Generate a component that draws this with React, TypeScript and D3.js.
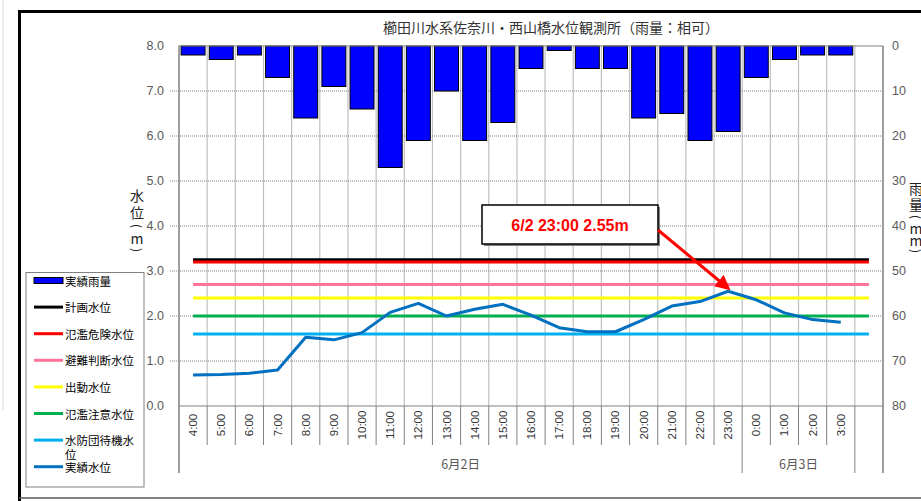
import React from "react";
import * as d3 from "d3";

// hourly observations, 6/2 4:00 - 6/3 3:00 (last column is empty)
const HOURS = ["4:00", "5:00", "6:00", "7:00", "8:00", "9:00", "10:00", "11:00", "12:00", "13:00", "14:00", "15:00",
  "16:00", "17:00", "18:00", "19:00", "20:00", "21:00", "22:00", "23:00", "0:00", "1:00", "2:00", "3:00"];
const CATEGORIES = [...HOURS, "-"];

const RAIN = [2, 3, 2, 7, 16, 9, 14, 27, 21, 10, 21, 17, 5, 1, 5, 5, 16, 15, 21, 19, 7, 3, 2, 2];
const LEVEL = [0.69, 0.70, 0.73, 0.80, 1.53, 1.47, 1.63, 2.08, 2.28, 2.00, 2.15, 2.26,
  2.02, 1.74, 1.65, 1.65, 1.92, 2.22, 2.32, 2.55, 2.36, 2.07, 1.92, 1.86];

const THRESHOLD_NAMES = ["計画水位", "氾濫危険水位", "避難判断水位", "出動水位", "氾濫注意水位", "水防団待機水位"];
const THRESHOLD_VALUES = [3.25, 3.20, 2.70, 2.40, 2.00, 1.60];
const THRESHOLD_COLORS = ["#000000", "#ff0000", "#ff7399", "#ffff00", "#00b050", "#00b0f0"];

const DAY_LABELS = ["6月2日", "6月3日"];
const DAY_FIRST = ["4:00", "0:00"];
const DAY_LAST = ["23:00", "3:00"];

const LEVEL_TICKS = [0, 1, 2, 3, 4, 5, 6, 7, 8];
const RAIN_TICKS = [0, 10, 20, 30, 40, 50, 60, 70, 80];

const TITLE = "櫛田川水系佐奈川・西山橋水位観測所（雨量：相可）";
const NOTE = "6/2 23:00 2.55m";

const W = 921, H = 501;
const FONT = "'Liberation Sans', Arial, 'Noto Sans CJK JP', sans-serif";
const JP = "'Noto Sans CJK JP', 'Liberation Sans', sans-serif";

// stacked vertical axis title: parens are turned sideways
function VTitle({ chars, x, ys }: { chars: string[]; x: number; ys: number[] }) {
  return (
    <g>
      {chars.map((ch, i) => {
        const paren = ch === "(" || ch === ")";
        return (
          <text key={i} transform={`translate(${x},${ys[i]})${paren ? " rotate(90)" : ""}`} textAnchor="middle"
            dominantBaseline="central" fontFamily={JP} fontSize={paren ? 12 : 14} fill="#222">{ch}</text>
        );
      })}
    </g>
  );
}

export default function App() {
  const left = 179, right = 883, top = 46, bottom = 406;
  const x = d3.scaleBand<string>().domain(CATEGORIES).range([left, right]).padding(0);
  const bw = x.bandwidth();
  const cx = (c: string) => (x(c) as number) + bw / 2;
  const y = d3.scaleLinear().domain([0, 8]).range([bottom, top]);
  const yr = d3.scaleLinear().domain([0, 80]).range([top, bottom]);

  const levelLine = d3.line<number>().x((_, i) => cx(HOURS[i])).y(d => y(d));
  const flatLine = (v: number) => d3.line<string>().x(c => cx(c)).y(() => y(v))(CATEGORIES) as string;

  const gray = "#808080";
  const labelColor = "#595959";

  // boundaries on the category axis
  const bounds = CATEGORIES.map(c => x(c) as number).concat([right]);
  const groupBounds = [x("4:00") as number, x("0:00") as number, x("-") as number, right];

  const legendItems = [
    { name: "実績雨量", color: "#0000ff", bar: true },
    ...THRESHOLD_NAMES.map((n, i) => ({ name: n, color: THRESHOLD_COLORS[i], bar: false })),
    { name: "実績水位", color: "#0070c0", bar: false },
  ];

  // annotation
  const tipX = cx("23:00"), tipY = y(2.55) - 3;
  const box = { x: 482, y: 205, w: 176, h: 39 };

  return (
    <div style={{ position: "absolute", left: 0, top: 0 }}>
      <svg width={W} height={H} style={{ display: "block", background: "#fff" }}>
        <defs>
          <marker id="arr" viewBox="0 0 10 10" refX="8" refY="5" markerWidth="5" markerHeight="5" orient="auto">
            <path d="M0,0 L10,5 L0,10 z" fill="#ff0000" />
          </marker>
        </defs>

        {/* outer frame */}
        <line x1={3} x2={3} y1={0} y2={410} stroke="#d9d9d9" strokeWidth={1} />
        <line x1={19} x2={W} y1={11.5} y2={11.5} stroke="#000" strokeWidth={3} />
        <line x1={19.5} x2={19.5} y1={10} y2={H} stroke="#000" strokeWidth={3} />
        <line x1={19} x2={W} y1={498} y2={498} stroke="#595959" strokeWidth={1.5} />

        <text x={551} y={27} textAnchor="middle" dominantBaseline="central" fontFamily={JP} fontSize={14} fill="#333">{TITLE}</text>

        {/* plot background + vertical grid */}
        <rect x={left} y={top} width={right - left} height={bottom - top} fill="#fff" />
        {bounds.slice(1, -1).map((b, i) => (
          <line key={"vg" + i} x1={b} x2={b} y1={top} y2={bottom} stroke="#c0c0c0" strokeWidth={1.2} />
        ))}
        {LEVEL_TICKS.slice(1, -1).map(t => (
          <line key={"hg" + t} x1={left - 9} x2={right} y1={y(t)} y2={y(t)} stroke="#808080" strokeWidth={1} strokeDasharray="1,1" />
        ))}

        {/* rainfall bars hanging from top */}
        {RAIN.map((r, i) => (
          <rect key={"b" + i} x={(x(HOURS[i]) as number) + bw * 0.075} y={yr(0)} width={bw * 0.85} height={yr(r) - yr(0)}
            fill="#0000ff" stroke="#000" strokeWidth={1} />
        ))}

        {/* threshold lines */}
        {THRESHOLD_VALUES.map((v, i) => (
          <path key={"th" + i} d={flatLine(v)} fill="none" stroke={THRESHOLD_COLORS[i]} strokeWidth={3} />
        ))}

        {/* water level */}
        <path d={levelLine(LEVEL) as string} fill="none" stroke="#0070c0" strokeWidth={3} strokeLinejoin="round" />

        {/* axes frame */}
        <rect x={left} y={top} width={right - left} height={bottom - top} fill="none" stroke={gray} strokeWidth={1} />
        <line x1={left} x2={left} y1={top} y2={473} stroke={gray} />
        <line x1={right} x2={right} y1={top} y2={473} stroke={gray} />

        {/* left axis */}
        {LEVEL_TICKS.map(t => (
          <text key={"lt" + t} x={164} y={y(t)} textAnchor="end" dominantBaseline="central" fontFamily={FONT} fontSize={12.5} fill={labelColor}>{t.toFixed(1)}</text>
        ))}
        <VTitle chars={["水", "位", "(", "m", ")"]} x={137} ys={[195, 212, 226, 238, 250]} />

        {/* right axis */}
        {RAIN_TICKS.map(t => (
          <text key={"rt" + t} x={892} y={yr(t)} textAnchor="start" dominantBaseline="central" fontFamily={FONT} fontSize={12.5} fill={labelColor}>{t}</text>
        ))}
        <VTitle chars={["雨", "量", "(", "m", "m", ")"]} x={916} ys={[188, 204, 217, 228, 240, 251]} />

        {/* category axis */}
        {bounds.map((b, i) => {
          const isGroup = groupBounds.some(g => Math.abs(g - b) < 0.5);
          return <line key={"ct" + i} x1={b} x2={b} y1={bottom} y2={isGroup ? 473 : 445} stroke={gray} strokeWidth={1} />;
        })}
        {HOURS.map(h => (
          <text key={"hl" + h} transform={`translate(${cx(h)},425) rotate(-90)`} textAnchor="middle" dominantBaseline="central"
            fontFamily={FONT} fontSize={11.5} fill="#333">{h}</text>
        ))}
        {DAY_LABELS.map((d, i) => {
          const x0 = x(DAY_FIRST[i]) as number;
          const x1 = (x(DAY_LAST[i]) as number) + bw;
          return <text key={"dl" + i} x={(x0 + x1) / 2} y={463} textAnchor="middle" dominantBaseline="central" fontFamily={JP} fontSize={12.5} fill={labelColor}>{d}</text>;
        })}

        {/* annotation */}
        <rect x={box.x + 2} y={box.y + 2} width={box.w} height={box.h} fill="#7f7f7f" />
        <rect x={box.x} y={box.y} width={box.w} height={box.h} fill="#fff" stroke="#000" strokeWidth={1.5} />
        <text x={box.x + box.w / 2} y={box.y + box.h / 2 + 1} textAnchor="middle" dominantBaseline="central" fontFamily={FONT} fontSize={16} fontWeight="bold" fill="#ff0000">{NOTE}</text>
        <line x1={box.x + box.w} y1={box.y + 25} x2={tipX} y2={tipY} stroke="#ff0000" strokeWidth={3} markerEnd="url(#arr)" />

        {/* legend */}
        <rect x={26} y={272.5} width={118} height={214.5} fill="#fff" stroke={gray} strokeWidth={1} />
        {legendItems.map((it, i) => {
          const ly = 280.5 + i * 26.6;
          return (
            <g key={"lg" + i}>
              {it.bar
                ? <rect x={34} y={ly - 3} width={29} height={6} fill={it.color} stroke="#000" strokeWidth={1} />
                : <line x1={34} x2={63} y1={ly} y2={ly} stroke={it.color} strokeWidth={3} />}
              {it.name === "水防団待機水位" ? (
                <text x={65} y={ly} dominantBaseline="central" fontFamily={JP} fontSize={11.5} fill="#000">
                  <tspan x={65}>水防団待機水</tspan>
                  <tspan x={65} dy={14}>位</tspan>
                </text>
              ) : (
                <text x={65} y={ly} dominantBaseline="central" fontFamily={JP} fontSize={11.5} fill="#000">{it.name}</text>
              )}
            </g>
          );
        })}
      </svg>
    </div>
  );
}
